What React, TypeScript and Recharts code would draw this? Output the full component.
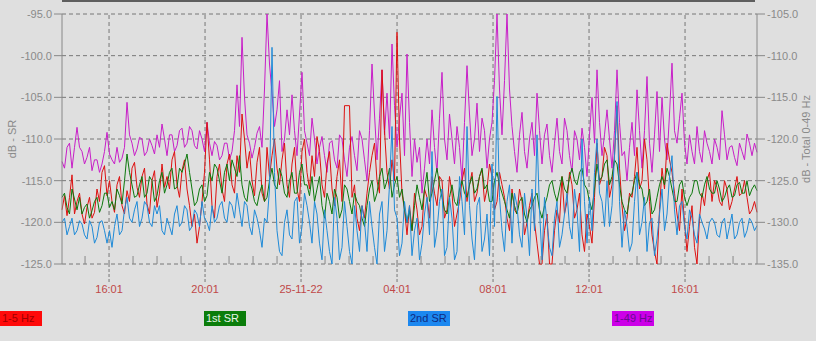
import React from "react";
import { LineChart, Line, XAxis, YAxis, CartesianGrid, ReferenceLine } from "recharts";

// readings every 12.5 min (plus in-between readings), hours relative to 16:01 on 24-11-22
const START_HOUR = -1.96;
const STEP_HOUR = 12.5 / 60;

// 1-5 Hz (left axis, dB)
const band1to5 = [
  -118.5, -119.2, -114.3, -117.5, -119.0, -118.2, -119.5, -116.0, -114.0, -116.8,
  -117.5, -115.5, -118.0, -116.2, -113.5, -115.8, -114.5, -117.8, -115.0, -118.2,
  -113.0, -114.5, -112.5, -115.5, -113.8, -116.0, -120.5, -122.5, -117.5, -108.0,
  -118.0, -114.5, -116.0, -113.0, -115.5, -112.0, -107.0, -113.5, -115.0, -112.8,
  -116.5, -111.0, -112.0, -113.5, -112.5, -115.5, -113.0, -116.0, -111.5, -114.0,
  -112.0, -109.7, -115.5, -113.0, -116.0, -114.5, -117.5, -106.0, -117.0, -119.5,
  -118.0, -116.5, -112.0, -115.0, -101.7, -114.0, -112.5, -97.2, -116.5, -121.5,
  -121.0, -118.5, -120.5, -117.0, -114.5, -118.0, -115.0, -118.5, -116.5, -119.0,
  -115.0, -117.5, -114.0, -116.5, -113.7, -116.0, -114.5, -117.5, -115.5, -119.5,
  -116.0, -119.0, -117.5, -120.0, -116.5, -122.5, -125.0, -119.0, -125.0, -118.5,
  -114.5, -117.5, -115.5, -118.5, -121.5, -119.0, -122.5, -110.5, -114.5, -112.0,
  -115.5, -106.0, -118.0, -119.5, -117.0, -111.0, -115.0, -112.5, -121.5, -125.0,
  -113.5, -110.5, -114.0, -119.0, -116.0, -123.5, -118.0, -125.0, -116.5, -115.0,
  -117.5, -115.8, -118.0, -116.0, -117.5, -114.5, -116.5, -117.0, -118.5, -118.8,
];
const band1to5Mid = [
  -116.8, -117.0, -119.0, -116.5, -120.2, -117.0, -118.8, -117.5, -113.2, -115.0,
  -118.8, -114.5, -119.0, -117.5, -112.8, -117.0, -113.5, -119.0, -113.8, -116.5,
  -115.8, -116.0, -111.5, -117.0, -112.5, -118.0, -119.0, -120.5, -114.0, -112.5,
  -119.5, -113.0, -117.5, -111.8, -116.5, -114.0, -110.0, -111.5, -116.8, -111.0,
  -117.5, -114.5, -110.0, -115.5, -110.5, -117.0, -111.0, -117.5, -110.0, -116.0,
  -114.5, -111.5, -117.0, -111.5, -118.0, -112.5, -106.0, -106.0, -115.5, -121.0,
  -119.5, -114.0, -110.5, -116.5, -109.0, -116.0, -115.0, -110.0, -118.5, -118.0,
  -116.5, -121.5, -116.0, -119.5, -116.5, -114.5, -119.5, -114.5, -120.5, -117.5,
  -113.5, -115.5, -117.5, -114.5, -117.5, -113.0, -118.5, -114.0, -117.0, -121.0,
  -118.5, -116.0, -121.5, -118.0, -120.0, -125.0, -121.0, -125.0, -121.0, -120.0,
  -119.0, -114.0, -119.5, -116.5, -123.5, -120.5, -117.0, -115.5, -111.0, -117.0,
  -112.0, -113.5, -121.0, -116.5, -114.5, -116.0, -110.0, -117.5, -123.5, -118.5,
  -116.0, -112.5, -116.5, -121.0, -120.0, -120.5, -123.0, -119.5, -118.0, -114.0,
  -115.0, -117.5, -115.0, -118.5, -116.0, -116.8, -115.0, -119.0, -117.5,
];

// 1st SR (left axis, dB)
const sr1 = [
  -117.0, -118.2, -116.0, -118.5, -119.0, -117.8, -118.6, -117.0, -118.0, -116.5,
  -117.5, -116.0, -117.8, -111.8, -115.5, -116.8, -114.5, -116.5, -115.0, -116.8,
  -114.0, -115.5, -113.5, -115.8, -114.0, -111.8, -116.0, -117.5, -115.5, -116.8,
  -115.0, -113.5, -116.5, -113.0, -112.5, -114.5, -115.5, -117.5, -116.0, -118.0,
  -115.5, -117.0, -113.5, -116.0, -114.5, -117.0, -114.0, -116.5, -113.0, -115.5,
  -114.5, -116.0, -118.0, -116.5, -119.0, -117.0, -118.5, -116.0, -119.0, -117.5,
  -119.5, -118.0, -115.0, -116.5, -113.5, -115.0, -117.0, -114.5, -116.0, -120.0,
  -121.0, -115.5, -118.5, -114.0, -116.5, -113.5, -117.0, -119.0, -115.5, -118.0,
  -115.0, -117.0, -114.5, -116.0, -113.5, -115.5, -117.5, -114.0, -116.5, -118.5,
  -116.5, -119.0, -117.0, -120.0, -118.0, -116.5, -119.5, -117.0, -115.0, -117.5,
  -114.5, -116.5, -113.5, -115.5, -113.5, -116.0, -118.5, -113.0, -114.5, -112.5,
  -114.5, -113.0, -117.5, -119.0, -116.5, -114.0, -116.0, -117.5, -119.0, -117.0,
  -114.5, -113.5, -116.0, -117.5, -115.0, -118.0, -116.5, -115.0, -117.0, -114.5,
  -116.5, -115.0, -117.5, -116.0, -117.0, -115.5, -116.5, -115.0, -116.0, -116.2,
];
const sr1Mid = [
  -116.5, -119.0, -117.2, -117.0, -118.2, -119.5, -117.5, -118.8, -116.5, -118.2,
  -118.5, -116.8, -115.0, -114.0, -117.0, -115.5, -117.0, -114.5, -117.5, -115.0,
  -116.5, -114.0, -116.0, -113.5, -113.0, -114.0, -118.0, -116.0, -117.5, -114.0,
  -113.0, -115.0, -114.0, -115.0, -113.5, -112.0, -117.0, -115.0, -117.5, -116.5,
  -117.5, -115.0, -115.5, -113.5, -116.5, -115.0, -116.5, -114.0, -115.5, -116.8,
  -117.5, -114.5, -119.5, -117.5, -116.0, -119.5, -115.5, -117.5, -116.5, -118.0,
  -120.5, -116.0, -117.5, -114.5, -116.0, -113.5, -115.5, -117.0, -118.5, -118.5,
  -118.0, -117.0, -116.0, -117.5, -115.0, -115.5, -118.5, -117.0, -117.5, -116.0,
  -116.5, -115.5, -116.5, -114.5, -116.0, -117.5, -115.0, -115.5, -117.5, -119.5,
  -118.0, -117.5, -119.0, -118.5, -117.0, -118.5, -118.0, -115.5, -116.5, -116.0,
  -116.0, -114.5, -115.0, -114.0, -115.5, -117.5, -116.0, -115.0, -113.0, -115.5,
  -112.5, -115.5, -118.5, -117.0, -115.0, -115.5, -118.0, -116.0, -118.5, -115.5,
  -115.5, -114.5, -117.5, -115.5, -117.0, -117.0, -115.0, -116.5, -115.5, -116.0,
  -116.5, -116.0, -117.0, -115.5, -116.8, -115.2, -116.5, -116.8, -115.5,
];

// 2nd SR (left axis, dB)
const sr2 = [
  -120.0, -121.5, -119.5, -121.0, -120.2, -122.0, -120.5, -121.8, -119.8, -122.5,
  -123.0, -119.0, -121.0, -117.0, -120.0, -117.5, -119.5, -118.0, -120.5, -119.0,
  -121.0, -119.5, -121.5, -118.0, -120.0, -118.5, -120.5, -119.0, -117.5, -120.0,
  -118.0, -119.5, -117.5, -120.0, -118.0, -116.5, -120.5, -118.0, -121.5, -119.5,
  -123.0, -120.0, -99.0, -121.0, -124.0, -118.5, -122.0, -117.0, -120.5, -118.0,
  -122.5, -119.0, -124.5, -121.0, -125.0, -119.5, -123.0, -120.5, -125.0, -121.0,
  -118.0, -123.5, -120.5, -125.0, -117.5, -121.0, -108.5, -119.5, -122.5, -120.0,
  -124.0, -119.5, -122.5, -117.0, -111.5, -121.0, -116.0, -123.0, -119.5, -123.5,
  -117.5, -108.5, -122.0, -118.0, -123.5, -119.0, -113.0, -104.9, -121.0, -117.5,
  -122.5, -118.0, -123.0, -119.5, -116.0, -109.5, -124.5, -120.0, -124.0, -117.5,
  -121.5, -116.5, -122.0, -118.5, -110.0, -122.5, -121.0, -110.0, -117.5, -115.0,
  -118.0, -105.5, -123.0, -120.5, -122.5, -114.0, -120.0, -123.5, -119.5, -122.0,
  -116.0, -119.0, -112.0, -121.5, -117.5, -122.0, -119.5, -122.5, -120.0, -122.0,
  -119.5, -121.5, -120.0, -122.0, -119.0, -121.5, -119.5, -121.0, -120.0, -120.4,
];
const sr2Mid = [
  -119.5, -120.5, -121.5, -119.8, -121.5, -119.8, -122.5, -120.0, -121.0, -121.0,
  -120.5, -121.5, -118.5, -119.5, -118.5, -120.5, -117.5, -120.0, -118.0, -118.0,
  -121.5, -120.5, -119.0, -120.5, -118.0, -121.0, -118.5, -120.5, -119.5, -121.0,
  -120.0, -118.0, -119.5, -117.5, -119.5, -118.5, -117.5, -120.5, -118.5, -121.0,
  -119.5, -116.0, -114.0, -123.5, -120.0, -121.5, -117.5, -122.5, -116.5, -120.0,
  -117.5, -122.5, -118.5, -123.5, -117.0, -124.5, -117.5, -123.5, -118.0, -123.5,
  -120.0, -117.5, -123.0, -119.0, -123.5, -115.5, -118.5, -124.0, -117.5, -118.0,
  -121.0, -124.5, -119.0, -121.5, -123.0, -117.5, -124.0, -117.0, -124.5, -114.5,
  -121.5, -118.0, -124.5, -117.0, -122.0, -124.0, -120.5, -117.0, -123.5, -115.5,
  -116.5, -121.5, -116.5, -124.0, -121.0, -118.5, -117.0, -123.0, -119.5, -123.0,
  -119.0, -120.5, -116.0, -123.5, -117.5, -117.0, -114.0, -116.5, -120.5, -120.5,
  -112.0, -117.5, -118.5, -123.5, -117.5, -121.5, -117.0, -120.0, -124.0, -119.0,
  -121.0, -114.5, -118.5, -118.0, -120.5, -118.5, -121.5, -119.0, -120.8, -120.0,
  -120.0, -121.8, -119.5, -120.5, -122.0, -120.0, -121.8, -119.5, -121.0,
];

// 1-49 Hz total (right axis, dB)
const band1to49 = [
  -122.7, -121.0, -123.5, -118.6, -121.5, -122.2, -123.8, -122.5, -123.0, -119.2,
  -122.5, -121.0, -122.3, -115.6, -120.5, -121.2, -120.0, -121.5, -120.8, -119.5,
  -118.2, -122.0, -119.5, -120.8, -118.7, -120.5, -119.0, -121.2, -120.0, -118.0,
  -122.0, -120.8, -122.0, -120.5, -121.5, -113.5, -107.8, -119.5, -122.3, -119.3,
  -121.0, -105.0, -114.5, -116.5, -121.5, -116.5, -114.7, -122.0, -112.0, -120.5,
  -117.5, -123.0, -119.7, -124.0, -120.2, -123.5, -120.0, -124.5, -119.7, -123.8,
  -120.0, -125.0, -111.0, -122.5, -111.7, -114.5, -108.6, -121.0, -114.5, -109.8,
  -124.5, -122.8, -126.5, -120.0, -116.5, -124.0, -112.0, -122.5, -120.0, -118.5,
  -125.0, -111.2, -122.0, -115.7, -117.5, -123.5, -118.0, -105.0, -119.5, -105.0,
  -118.5, -124.0, -116.8, -123.5, -118.0, -114.5, -123.0, -118.2, -124.0, -117.5,
  -123.0, -119.0, -124.0, -120.0, -118.7, -124.5, -115.0, -111.7, -122.0, -116.5,
  -123.5, -111.7, -122.0, -125.0, -118.0, -114.1, -123.5, -112.5, -124.0, -114.3,
  -115.0, -122.5, -110.9, -120.5, -114.5, -123.0, -121.5, -118.5, -122.8, -120.5,
  -123.0, -121.0, -116.6, -122.5, -120.8, -123.2, -121.5, -119.4, -122.0, -121.6,
];
const band1to49Mid = [
  -123.5, -120.5, -121.0, -121.0, -123.0, -121.0, -122.5, -124.0, -121.5, -121.8,
  -123.0, -122.8, -121.0, -119.5, -122.0, -119.8, -122.0, -120.0, -121.8, -121.0,
  -120.0, -119.5, -121.5, -119.0, -121.0, -118.5, -120.8, -119.0, -121.5, -120.5,
  -120.3, -122.5, -120.5, -122.5, -119.0, -118.5, -115.0, -120.5, -121.0, -118.5,
  -114.0, -111.0, -118.5, -113.0, -120.0, -119.5, -119.0, -117.0, -119.0, -122.0,
  -120.0, -121.0, -122.0, -120.5, -122.5, -119.5, -122.5, -121.0, -122.0, -119.0,
  -122.5, -119.0, -117.0, -117.5, -119.5, -120.0, -116.0, -117.5, -122.0, -118.0,
  -120.0, -121.0, -123.5, -123.0, -121.0, -117.5, -120.0, -117.0, -123.0, -121.0,
  -118.0, -117.0, -120.0, -121.5, -119.0, -120.0, -113.0, -114.0, -113.0, -114.0,
  -121.5, -119.5, -121.5, -120.0, -122.0, -119.0, -119.5, -122.0, -120.5, -121.5,
  -117.5, -122.0, -119.0, -122.5, -121.0, -119.5, -120.5, -118.0, -119.5, -120.0,
  -119.0, -118.0, -121.5, -121.0, -122.0, -119.0, -119.0, -120.5, -119.5, -121.5,
  -120.0, -117.0, -119.0, -117.5, -120.5, -119.5, -123.0, -121.5, -119.0, -121.5,
  -120.0, -122.5, -119.5, -121.0, -122.2, -120.5, -122.5, -120.5, -120.5,
];

const leftTicks = [-125, -120, -115, -110, -105, -100, -95];
const rightTicks = [-135, -130, -125, -120, -115, -110, -105];
const hourTicks = Array.from({ length: 28 }, (_, k) => k - 1); // -1..26
const majorLabels: Record<number, string> = {
  0: "16:01",
  4: "20:01",
  8: "25-11-22",
  12: "04:01",
  16: "08:01",
  20: "12:01",
  24: "16:01",
};

const series = [
  { key: "b15", name: "1-5 Hz", line: "#dd1010", box: "#ff0a0a", text: "#a00000", x: 0 },
  { key: "s1", name: "1st SR", line: "#0c780c", box: "#0b7d0b", text: "#e8f4e8", x: 204 },
  { key: "s2", name: "2nd SR", line: "#1e8ad8", box: "#1c88f0", text: "#102a80", x: 408 },
  { key: "b49", name: "1-49 Hz", line: "#c81ec8", box: "#cc00e8", text: "#6a0a90", x: 612 },
];

const rows: any[] = [];
band1to5.forEach((v, i) => {
  rows.push({ t: START_HOUR + i * STEP_HOUR, b15: v, s1: sr1[i], s2: sr2[i], b49: band1to49[i] });
  if (i < band1to5Mid.length) {
    rows.push({
      t: START_HOUR + (i + 0.5) * STEP_HOUR,
      b15: band1to5Mid[i],
      s1: sr1Mid[i],
      s2: sr2Mid[i],
      b49: band1to49Mid[i],
    });
  }
});
const END_HOUR = START_HOUR + (band1to5.length - 1) * STEP_HOUR;

function HourTick({ x, y, payload }: any) {
  const lbl = majorLabels[payload.value];
  if (lbl) {
    return (
      <g>
        <line x1={x} y1={y} x2={x} y2={y + 18} stroke="#777" strokeDasharray="3 2" />
        <text x={x} y={y + 29} textAnchor="middle" fill="#c04848" fontSize={11}>
          {lbl}
        </text>
      </g>
    );
  }
  return <line x1={x} y1={y - 8} x2={x} y2={y} stroke="#888" />;
}

const axisText = { fill: "#8a8a8a", fontSize: 11 };

export default function App() {
  return (
    <div
      style={{
        position: "fixed",
        left: 0,
        top: 0,
        width: 816,
        height: 341,
        background: "#dfdfdf",
        fontFamily: "'Liberation Sans', Arial, sans-serif",
        overflow: "hidden",
      }}
    >
      <div style={{ position: "absolute", left: 62, top: 0, width: 693, height: 2, background: "#5e5e5e" }} />
      <LineChart width={816} height={300} data={rows} margin={{ top: 14, right: 0, bottom: 0, left: 0 }}>
        <CartesianGrid yAxisId="l" vertical={false} stroke="#777" strokeDasharray="4 3" />
        {Object.keys(majorLabels).map((h) => (
          <ReferenceLine key={h} x={Number(h)} yAxisId="l" stroke="#777" strokeDasharray="4 3" />
        ))}
        <XAxis
          type="number"
          dataKey="t"
          domain={[START_HOUR, END_HOUR]}
          ticks={hourTicks}
          interval={0}
          tick={<HourTick />}
          tickLine={false}
          axisLine={false}
          tickSize={0}
          tickMargin={0}
          height={36}
        />
        <YAxis
          yAxisId="l"
          domain={[-125, -95]}
          ticks={leftTicks}
          width={62}
          stroke="#888"
          tick={axisText}
          tickSize={8}
          tickMargin={2}
          tickFormatter={(v: number) => v.toFixed(1)}
        />
        <YAxis
          yAxisId="r"
          orientation="right"
          domain={[-135, -105]}
          ticks={rightTicks}
          width={59}
          stroke="#888"
          tick={axisText}
          tickSize={8}
          tickMargin={2}
          tickFormatter={(v: number) => v.toFixed(1)}
        />
        <Line yAxisId="r" dataKey="b49" stroke={series[3].line} strokeWidth={1} dot={false} isAnimationActive={false} />
        <Line yAxisId="l" dataKey="b15" stroke={series[0].line} strokeWidth={1} dot={false} isAnimationActive={false} />
        <Line yAxisId="l" dataKey="s1" stroke={series[1].line} strokeWidth={1} dot={false} isAnimationActive={false} />
        <Line yAxisId="l" dataKey="s2" stroke={series[2].line} strokeWidth={1} dot={false} isAnimationActive={false} />
      </LineChart>

      <div
        style={{
          position: "absolute",
          left: 12,
          top: 139,
          transform: "translate(-50%, -50%) rotate(-90deg)",
          whiteSpace: "nowrap",
          color: "#8a8a8a",
          fontSize: 11,
        }}
      >
        dB - SR
      </div>
      <div
        style={{
          position: "absolute",
          left: 806,
          top: 139,
          transform: "translate(-50%, -50%) rotate(-90deg)",
          whiteSpace: "nowrap",
          color: "#8a8a8a",
          fontSize: 11,
        }}
      >
        dB - Total 0-49 Hz
      </div>

      {series.map((s) => (
        <div
          key={s.key}
          style={{
            position: "absolute",
            left: s.x,
            top: 311,
            width: 42,
            height: 15,
            background: s.box,
            color: s.text,
            fontSize: 11,
            lineHeight: "15px",
            paddingLeft: 2,
            boxSizing: "border-box",
            whiteSpace: "nowrap",
          }}
        >
          {s.name}
        </div>
      ))}
    </div>
  );
}
